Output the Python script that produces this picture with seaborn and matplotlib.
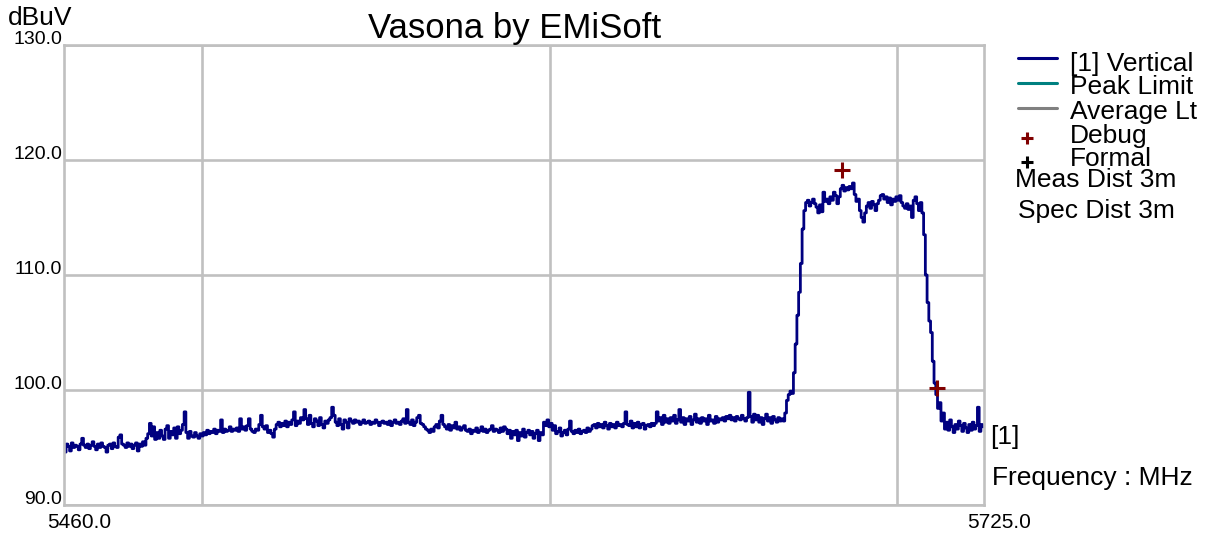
import matplotlib
matplotlib.use("Agg")
import matplotlib.pyplot as plt
import matplotlib.transforms as mtransforms
from matplotlib.lines import Line2D
import numpy as np
import seaborn as sns

# Sweep settings (MHz)
f_start = 5460.0
f_stop = 5725.0

# Measured level, dBuV, one reading every 0.5 MHz from f_start to f_stop
level = [
    95.0, 94.6, 95.3, 95.1, 94.7, 95.4, 95.0, 95.2, 95.1, 94.8,
    95.3, 95.8, 95.2, 95.0, 95.3, 94.9, 95.2, 95.5, 95.1, 94.8,
    95.3, 95.0, 95.4, 95.1, 95.0, 94.6, 95.2, 95.3, 94.9, 95.4,
    95.1, 95.0, 95.9, 96.1, 95.3, 95.2, 95.0, 95.4, 95.1, 95.3,
    94.9, 95.2, 95.4, 94.7, 95.3, 95.1, 95.5, 95.2, 95.8, 96.2,
    97.1, 96.0, 96.8, 95.7, 96.3, 95.8, 96.5, 96.0, 95.7, 96.6,
    96.9, 95.8, 96.4, 96.1, 96.7, 95.8, 96.8, 96.2, 96.5, 97.0,
    98.1, 96.3, 95.8, 96.4, 96.0, 95.9, 96.3, 96.0, 95.8, 96.2,
    96.0, 96.3, 96.1, 96.5, 96.2, 96.4, 96.3, 96.6, 96.2, 96.5,
    96.4, 97.4, 96.3, 96.6, 96.4, 96.5, 96.8, 96.4, 96.6, 96.5,
    96.7, 96.4, 97.5, 96.6, 96.8, 96.5, 96.9, 97.5, 96.6, 96.4,
    96.3, 96.6, 96.5, 97.0, 97.8, 96.8, 96.6, 96.9, 96.3, 96.5,
    96.2, 95.9, 96.6, 97.0, 97.2, 96.8, 97.1, 96.9, 97.3, 96.8,
    97.2, 97.0, 97.4, 98.1, 96.9, 97.3, 97.1, 97.6, 97.4, 98.3,
    97.5, 97.0, 97.8, 97.1, 96.8, 97.5, 97.3, 96.9, 97.6, 97.0,
    96.7, 97.3, 97.1, 97.4, 97.6, 98.5, 97.8, 97.2, 96.9, 97.5,
    97.0, 96.6, 97.4, 97.2, 96.7, 97.5, 97.3, 97.1, 97.4, 97.2,
    97.3, 97.0, 97.2, 97.4, 97.1, 97.2, 97.3, 97.0, 97.2, 97.1,
    97.4, 97.2, 96.9, 97.2, 97.3, 97.1, 97.2, 97.0, 97.3, 96.9,
    97.2, 97.4, 97.1, 97.2, 97.0, 97.3, 97.5, 97.1, 98.3, 97.2,
    97.0, 97.4, 96.9, 97.2, 97.6, 97.8, 97.1, 97.0, 96.8, 96.6,
    96.5, 96.3, 96.6, 96.4, 96.8, 97.0, 96.7, 97.3, 97.8, 97.0,
    96.8, 96.6, 97.0, 96.5, 96.9, 96.7, 97.2, 96.6, 96.8, 96.5,
    96.7, 96.9, 96.5, 96.4, 96.6, 96.2, 96.5, 96.4, 96.7, 96.3,
    96.5, 96.8, 96.4, 96.6, 96.3, 96.5, 96.6, 96.9, 96.4, 96.6,
    96.5, 96.3, 96.7, 96.4, 96.8, 96.6, 96.2, 96.5, 95.8, 96.4,
    96.1, 96.5, 95.6, 96.3, 96.0, 96.6, 95.9, 96.3, 96.5, 96.1,
    96.4, 95.8, 96.2, 96.5, 95.6, 96.3, 96.1, 97.2, 96.9, 97.4,
    96.8, 97.1, 96.5, 96.9, 96.2, 96.4, 96.7, 96.0, 96.3, 96.5,
    96.1, 96.6, 97.3, 96.4, 96.2, 96.5, 96.3, 96.6, 96.2, 96.4,
    96.5, 96.3, 96.7, 96.4, 96.6, 96.9, 97.0, 96.7, 97.1, 96.8,
    97.0, 96.7, 97.2, 96.9, 96.6, 97.1, 96.8, 97.0, 96.7, 97.2,
    96.9, 97.0, 96.8, 97.1, 98.1, 97.0, 96.9, 97.3, 96.7, 97.1,
    96.8, 97.2, 96.7, 97.0, 97.1, 96.6, 96.9, 97.0, 96.8, 97.1,
    96.9, 97.1, 98.1, 97.3, 97.6, 97.0, 97.8, 97.2, 97.5, 97.1,
    97.6, 97.3, 97.8, 97.1, 97.4, 98.3, 97.2, 97.6, 97.0, 97.5,
    97.3, 97.7, 97.0, 97.4, 97.9, 97.2, 97.5, 97.1, 97.6, 97.3,
    97.5, 97.0, 97.8, 97.3, 97.4, 97.1, 97.7, 97.2, 97.5, 97.4,
    97.6, 97.3, 97.7, 97.5, 97.8, 97.4, 97.6, 97.3, 97.7, 97.5,
    97.4, 97.8, 97.5, 97.3, 97.6, 99.8, 97.7, 97.2, 97.9, 97.4,
    97.8, 97.2, 97.6, 97.0, 97.5, 97.9, 97.3, 97.6, 97.1, 97.7,
    97.4, 97.2, 97.6, 97.3, 97.5, 97.3, 98.0, 99.1, 99.6, 99.9,
    99.7, 101.5, 104.0, 106.5, 108.5, 111.0, 114.0, 115.6, 116.3, 116.5,
    116.0, 116.3, 116.6, 116.2, 115.9, 115.4, 116.1, 115.5, 117.2, 116.4,
    116.6, 116.2, 116.8, 116.5, 117.2, 116.9, 116.2, 116.8, 117.5, 117.8,
    117.3, 117.6, 117.4, 117.7, 117.5, 118.0, 117.0, 116.4, 116.6, 115.6,
    115.0, 114.6, 115.4, 116.0, 116.3, 115.8, 116.4, 116.1, 115.6, 116.2,
    116.5, 116.9, 117.0, 116.6, 116.8, 116.3, 116.7, 116.1, 116.6, 116.4,
    116.8, 116.5, 116.9, 116.3, 116.0, 115.8, 116.2, 115.7, 116.0, 115.0,
    116.5, 116.8, 116.2, 115.6, 116.3, 115.4, 113.5, 110.0, 107.6, 106.0,
    105.0, 102.5, 100.6, 99.6, 98.4, 98.9, 97.3, 98.0, 96.6, 97.2,
    96.5, 97.4, 96.8, 96.3, 97.0, 96.6, 97.3, 96.9, 96.4, 97.1,
    96.7, 96.3, 97.0, 96.5, 97.2, 96.6, 96.9, 98.5, 96.4, 97.0,
    96.8,
]
freq = np.linspace(f_start, f_stop, len(level))

# Debug markers (MHz, dBuV)
debug_freq = [5684.2, 5711.6]
debug_level = [119.1, 100.2]

y_ticks = [90, 100, 110, 120, 130]
y_ticklabels = ["90.0", "100.0", "110.0", "120.0", "130.0"]
x_ticks = [5460, 5725]
x_ticklabels = ["5460.0", "5725.0"]
x_grid = [5500, 5600, 5700]

legend_labels = ["[1] Vertical", "Peak Limit", "Average Lt", "Debug", "Formal"]
side_notes = ["Meas Dist 3m", "Spec Dist 3m"]

sns.set_style("white")
plt.rcParams["font.family"] = ["Liberation Sans", "DejaVu Sans"]
plt.rcParams["text.color"] = "black"
plt.rcParams["xtick.color"] = "black"
plt.rcParams["ytick.color"] = "black"

TRACE = "#000080"
GRID = "#c0c0c0"
W, H = 1210, 533

fig = plt.figure(figsize=(W / 100, H / 100), dpi=100)
ax = fig.add_axes([63.5 / W, 1 - 505 / H, 920 / W, 460 / H])

sns.lineplot(x=freq, y=level, ax=ax, color=TRACE, linewidth=2.0,
             drawstyle="steps-mid", estimator=None, sort=False)
ax.plot(debug_freq, debug_level, linestyle="none", marker="+",
        markersize=11, markeredgewidth=2.2, color="#800000", zorder=5)

ax.set_xlim(f_start, f_stop)
ax.set_ylim(90, 130)

ax.set_yticks(y_ticks)
ax.set_yticklabels(y_ticklabels)
ax.set_xticks(x_ticks)
ax.set_xticklabels(x_ticklabels)
ax.set_xticks(x_grid, minor=True)
ax.tick_params(which="both", length=0)
ax.tick_params(axis="y", labelsize=14, pad=1)
ax.tick_params(axis="x", labelsize=15, pad=6)

ax.grid(False)
ax.grid(True, axis="y", which="major", color=GRID, linewidth=1.9)
ax.grid(True, axis="x", which="minor", color=GRID, linewidth=1.9)
ax.set_axisbelow(True)
for sp in ax.spines.values():
    sp.set_color(GRID)
    sp.set_linewidth(1.9)

for lab in ax.get_yticklabels():
    lab.set_verticalalignment("bottom")
    lab.set_horizontalalignment("right")
    lab.set_transform(lab.get_transform() +
                      mtransforms.ScaledTranslation(0, -3 / 100, fig.dpi_scale_trans))
for lab in ax.get_xticklabels():
    lab.set_horizontalalignment("left")
    lab.set_transform(lab.get_transform() +
                      mtransforms.ScaledTranslation(-16 / 100, 0, fig.dpi_scale_trans))

ax.set_xlabel("")
ax.set_ylabel("")


def fx(px):
    return px / W


def fy(py):
    return 1 - py / H


fig.text(fx(515), fy(38), "Vasona by EMiSoft", fontsize=25,
         ha="center", va="baseline")
fig.text(fx(8), fy(25), "dBuV", fontsize=19, ha="left", va="baseline")

# Legend: line keys, then marker keys
key_colors = [TRACE, "#008080", "#808080"]
key_rows = [58, 83, 108]
for c, yy in zip(key_colors, key_rows):
    fig.add_artist(Line2D([fx(1018), fx(1057)], [fy(yy), fy(yy)],
                          color=c, linewidth=2.2, transform=fig.transFigure))
for c, yy in zip(["#800000", "black"], [138, 162]):
    fig.add_artist(Line2D([fx(1027)], [fy(yy)], linestyle="none", marker="+",
                          markersize=9, markeredgewidth=2.2, color=c,
                          transform=fig.transFigure))

label_baselines = [71, 94, 119, 143, 166]
for lab, yy in zip(legend_labels, label_baselines):
    fig.text(fx(1070), fy(yy), lab, fontsize=19, ha="left", va="baseline")

fig.text(fx(1015), fy(187), side_notes[0], fontsize=19, ha="left", va="baseline")
fig.text(fx(1018), fy(218), side_notes[1], fontsize=19, ha="left", va="baseline")
fig.text(fx(990), fy(444), "[1]", fontsize=19, ha="left", va="baseline")
fig.text(fx(992), fy(485), "Frequency : MHz", fontsize=19, ha="left", va="baseline")

fig.savefig("out.png", dpi=100)
